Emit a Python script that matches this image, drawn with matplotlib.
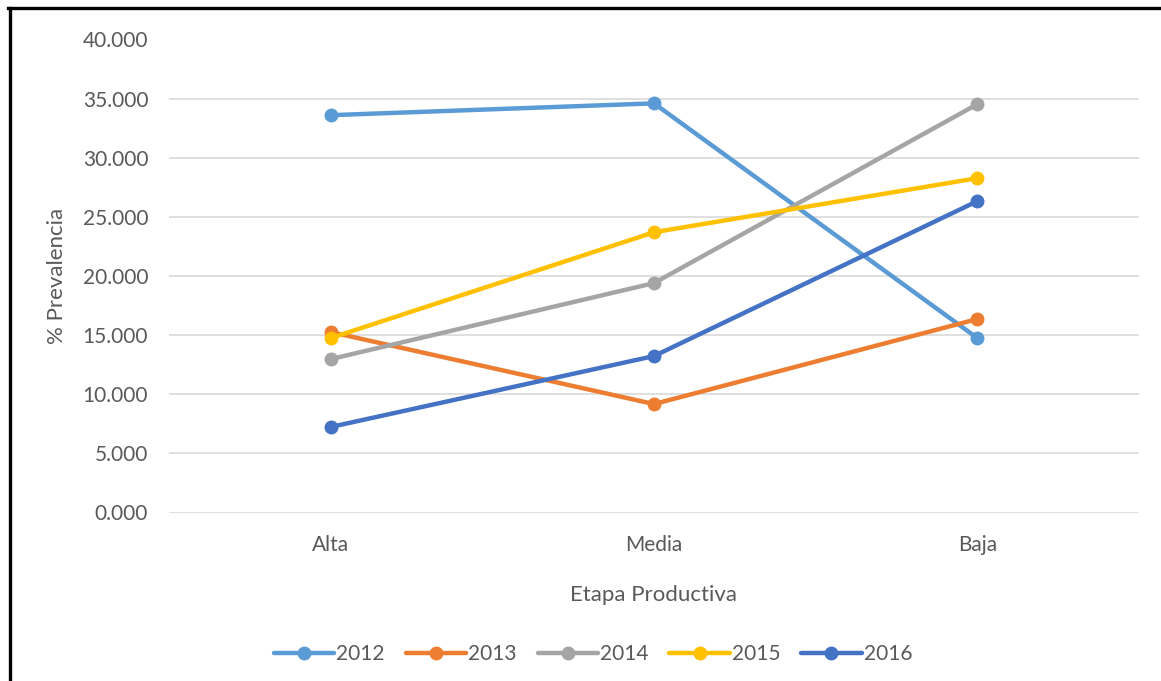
import matplotlib.pyplot as plt
from matplotlib.ticker import FuncFormatter, MultipleLocator

plt.rcParams['font.family'] = ['Lato', 'DejaVu Sans']

etapas = ['Alta', 'Media', 'Baja']
years = ['2012', '2013', '2014', '2015', '2016']
prev_2012 = [33.6, 34.6, 14.75]
prev_2013 = [15.26, 9.17, 16.36]
prev_2014 = [12.97, 19.4, 34.53]
prev_2015 = [14.75, 23.7, 28.27]
prev_2016 = [7.23, 13.23, 26.33]

series = [prev_2012, prev_2013, prev_2014, prev_2015, prev_2016]
colors = ['#5B9BD5', '#ED7D31', '#A5A5A5', '#FFC000', '#4472C4']

fig = plt.figure(figsize=(11.61, 6.81), dpi=100)
ax = fig.add_axes([169 / 1161, 1 - 512.5 / 681, 970 / 1161, 473 / 681])

x = range(len(etapas))
for vals, c, yr in zip(series, colors, years):
    ax.plot(x, vals, color=c, lw=3.2, marker='o', ms=9,
            solid_capstyle='round', label=yr)

ax.set_xlim(-0.5, 2.5)
ax.set_ylim(0, 40)
ax.yaxis.set_major_locator(MultipleLocator(5))
ax.yaxis.set_major_formatter(FuncFormatter(lambda v, p: f'{v:.3f}'))
ax.set_xticks(list(x))
ax.set_xticklabels(etapas)
ax.grid(axis='y', color='#D9D9D9', lw=1.2)
ax.set_axisbelow(True)
for s in ax.spines.values():
    s.set_visible(False)
ax.tick_params(length=0, colors='#595959', labelsize=15)
ax.tick_params(axis='y', pad=15)
ax.tick_params(axis='x', pad=16.5)

ax.set_ylabel('% Prevalencia', fontsize=16, color='#595959', labelpad=11)
ax.set_xlabel('Etapa Productiva', fontsize=16, color='#595959', labelpad=21)

leg = ax.legend(loc='center', bbox_to_anchor=(593 / 1161, 1 - 654 / 681),
                bbox_transform=fig.transFigure, ncol=5, frameon=False,
                fontsize=15, handlelength=2.9, columnspacing=1.0,
                handletextpad=0.1, labelcolor='#595959')

# border lines along the left and top edges
fig.add_artist(plt.Line2D([9.5 / 1161, 9.5 / 1161], [0, 1 - 8 / 681],
                          color='black', lw=2.4, transform=fig.transFigure))
fig.add_artist(plt.Line2D([8.3 / 1161, 1], [1 - 8 / 681, 1 - 8 / 681],
                          color='black', lw=2.4, transform=fig.transFigure))

fig.savefig('out.png', dpi=100)
